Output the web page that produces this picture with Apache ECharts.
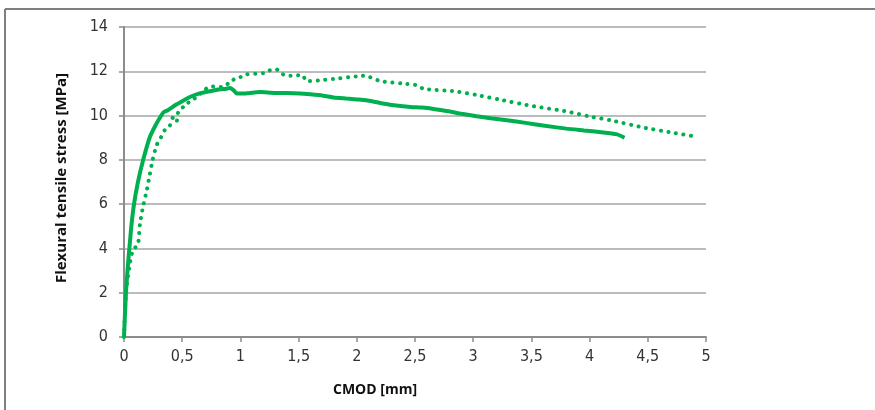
<!DOCTYPE html>
<html>
<head>
<meta charset="utf-8">
<script src="https://cdn.jsdelivr.net/npm/echarts@6/dist/echarts.min.js"></script>
<style>
  html, body { margin: 0; padding: 0; background: #fff; }
  #chart { width: 875px; height: 410px; }
</style>
</head>
<body>
<div id="chart"></div>
<script>
// CMOD [mm] vs flexural tensile stress [MPa]
const solidCurve = [
  [0, 0], [0.008, 1.0], [0.017, 2.0], [0.03, 3.0], [0.046, 4.0], [0.063, 5.0],
  [0.086, 6.0], [0.12, 7.0], [0.165, 8.0], [0.22, 9.0], [0.27, 9.55],
  [0.32, 10.0], [0.34, 10.15], [0.38, 10.25], [0.45, 10.5], [0.5, 10.65],
  [0.57, 10.85], [0.65, 11.0], [0.72, 11.08], [0.8, 11.17], [0.86, 11.2],
  [0.91, 11.24], [0.94, 11.15], [0.97, 11.0], [1.02, 11.0], [1.1, 11.03],
  [1.17, 11.06], [1.3, 11.02], [1.4, 11.02], [1.51, 11.0], [1.6, 10.96],
  [1.71, 10.9], [1.8, 10.82], [1.91, 10.77], [2.0, 10.73], [2.08, 10.69],
  [2.2, 10.57], [2.3, 10.48], [2.46, 10.39], [2.56, 10.36], [2.66, 10.3],
  [2.8, 10.18], [2.9, 10.08], [3.03, 9.97], [3.15, 9.88], [3.29, 9.79],
  [3.45, 9.67], [3.6, 9.55], [3.8, 9.41], [3.95, 9.33], [4.1, 9.25],
  [4.23, 9.16], [4.3, 9.0]
];

const dottedCurve = [
  [0, 0], [0.017, 2.0], [0.05, 3.3], [0.075, 3.9], [0.12, 4.2], [0.137, 5.1],
  [0.166, 5.96], [0.195, 6.6], [0.22, 7.3], [0.246, 8.0], [0.28, 8.66],
  [0.32, 9.04], [0.35, 9.34], [0.395, 9.56], [0.42, 9.9], [0.45, 9.71],
  [0.47, 10.24], [0.52, 10.42], [0.58, 10.72], [0.62, 10.81], [0.68, 11.1],
  [0.74, 11.32], [0.8, 11.3], [0.85, 11.29], [0.9, 11.47], [0.94, 11.62],
  [1.0, 11.74], [1.05, 11.86], [1.2, 11.92], [1.25, 12.04], [1.31, 12.09],
  [1.35, 11.89], [1.43, 11.8], [1.53, 11.83], [1.57, 11.55], [1.68, 11.59],
  [1.8, 11.65], [1.94, 11.74], [2.0, 11.77], [2.07, 11.8], [2.2, 11.56],
  [2.4, 11.44], [2.53, 11.36], [2.57, 11.21], [2.83, 11.1], [3.03, 10.93],
  [3.23, 10.72], [3.52, 10.42], [3.8, 10.19], [3.99, 9.97], [4.18, 9.79],
  [4.46, 9.46], [4.69, 9.25], [4.89, 9.07]
];

const xMax = 5;
const yMax = 14;

const green = '#00b050';
const axisGray = '#8c8c8c';
const labelFont = '"Liberation Sans Narrow", "DejaVu Sans Condensed", "Roboto", sans-serif';
const titleFont = '"Open Sans", "Liberation Sans", sans-serif';

const chart = echarts.init(document.getElementById('chart'));

const option = {
    backgroundColor: '#fff',
    animation: false,
    grid: { left: 124, right: 169, top: 27, bottom: 73 },
    xAxis: {
        type: 'value',
        min: 0,
        max: xMax,
        interval: 0.5,
        axisLine: { show: true, lineStyle: { color: axisGray, width: 2 } },
        axisTick: { show: true, length: 5, lineStyle: { color: axisGray, width: 1.5 } },
        splitLine: { show: false },
        axisLabel: {
            margin: 12,
            color: '#333',
            fontSize: 16,
            fontFamily: labelFont,
            formatter: v => String(v).replace('.', ',')
        }
    },
    yAxis: {
        type: 'value',
        min: 0,
        max: yMax,
        interval: 2,
        axisLine: { show: true, lineStyle: { color: axisGray, width: 2 } },
        axisTick: { show: true, length: 5, lineStyle: { color: axisGray, width: 1.5 } },
        splitLine: { show: true, lineStyle: { color: '#a6a6a6', width: 1.5 } },
        axisLabel: {
            margin: 16,
            color: '#333',
            fontSize: 16,
            fontFamily: labelFont
        }
    },
    graphic: [
        // frame: top and left edges only
        { type: 'line', shape: { x1: 5, y1: 9, x2: 875, y2: 9 },
          style: { stroke: '#7f7f7f', lineWidth: 2 }, silent: true },
        { type: 'line', shape: { x1: 5, y1: 9, x2: 5, y2: 410 },
          style: { stroke: '#7f7f7f', lineWidth: 2 }, silent: true },
        { type: 'text', x: 375, y: 390,
          style: { text: 'CMOD [mm]', font: 'bold 14px ' + titleFont, fill: '#111',
                   textAlign: 'center', textVerticalAlign: 'middle' } },
        { type: 'text', x: 62, y: 178, rotation: Math.PI / 2,
          style: { text: 'Flexural tensile stress [MPa]', font: 'bold 15px ' + titleFont, fill: '#111',
                   textAlign: 'center', textVerticalAlign: 'middle' } }
    ],
    series: [
        {
            name: 'solid',
            type: 'line',
            data: solidCurve,
            showSymbol: false,
            smooth: 0.2,
            lineStyle: { color: green, width: 4 },
            z: 3
        },
        {
            name: 'dotted',
            type: 'line',
            data: dottedCurve,
            showSymbol: false,
            smooth: 0.2,
            lineStyle: { color: green, width: 4, type: [0.1, 7.5], cap: 'round' },
            z: 2
        }
    ]
};

chart.setOption(option);
</script>
</body>
</html>
